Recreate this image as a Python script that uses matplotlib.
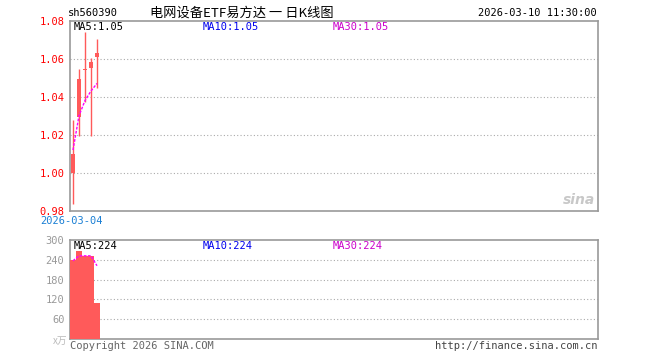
import matplotlib
matplotlib.use("Agg")
import matplotlib.pyplot as plt

# ---- data ----
opens = [1.000, 1.0296, 1.054, 1.0549, 1.0607]
closes = [1.010, 1.0493, 1.0548, 1.0583, 1.0628]
highs = [1.028, 1.0547, 1.074, 1.0604, 1.0704]
lows = [0.9837, 1.0196, 1.037, 1.0196, 1.0447]
ma5_price = [1.012, 1.030, 1.038, 1.043, 1.047]
volumes = [239, 267, 251, 251, 109]
ma5_vol = [237, 252, 252, 252, 222]
price_ticks = [0.98, 1.00, 1.02, 1.04, 1.06, 1.08]
price_labels = ["0.98", "1.00", "1.02", "1.04", "1.06", "1.08"]
vol_ticks = [60, 120, 180, 240, 300]
vol_labels = ["60", "120", "180", "240", "300"]
start_date = "2026-03-04"
n_slots = 88

RED = "#ff5a5a"
MONO = "DejaVu Sans Mono"
CJK = ["Noto Sans CJK SC", "DejaVu Sans"]
GRID = "#aaaaaa"
FRAME = "#999999"

fig = plt.figure(figsize=(6.6, 3.6), dpi=100)
fig.patch.set_facecolor("white")

W, H = 660.0, 360.0
def box(l, t, r, b):
    return [l / W, 1 - b / H, (r - l) / W, (b - t) / H]

ax = fig.add_axes(box(70, 20.5, 598, 211))
axv = fig.add_axes(box(70, 240, 598, 339))

for a in (ax, axv):
    for s in a.spines.values():
        s.set_color(FRAME)
        s.set_linewidth(1.2)
    a.set_xlim(-0.5, n_slots - 0.5)
    a.set_xticks([])
    a.tick_params(axis="y", length=0, pad=4)

# price
x = list(range(len(opens)))
for i in x:
    ax.vlines(i, lows[i], highs[i], color=RED, linewidth=1.0, zorder=3)
    bot = min(opens[i], closes[i])
    h = max(abs(closes[i] - opens[i]), 0.0008)
    ax.bar(i, h, bottom=bot, width=0.7, color=RED, edgecolor=RED, linewidth=0, zorder=4)
ax.plot(x, ma5_price, color="#ff00ff", linewidth=1.0, linestyle=(0, (2, 1)), zorder=5)
ax.set_ylim(0.98, 1.08)
ax.set_yticks(price_ticks)
ax.set_yticklabels(price_labels, family=MONO, fontsize=7.5, color="#ff0000")
for v in price_ticks[1:-1]:
    ax.axhline(v, color=GRID, linewidth=0.8, linestyle=(0, (1, 2)), zorder=1)

# volume
axv.bar(x, volumes, width=0.85, color=RED, linewidth=0, zorder=3)
axv.plot(x, ma5_vol, color="#ff00ff", linewidth=1.0, linestyle=(0, (2, 1)), zorder=5)
axv.set_ylim(0, 300)
axv.set_yticks(vol_ticks)
axv.set_yticklabels(vol_labels, family=MONO, fontsize=7.5, color="#999999")
for v in vol_ticks[:-1]:
    axv.axhline(v, color=GRID, linewidth=0.8, linestyle=(0, (1, 2)), zorder=1)

def t(xp, yp, s, **kw):
    fig.text(xp / W, 1 - yp / H, s, **kw)

# header
t(68, 13, "sh560390", family=MONO, fontsize=7.5, color="black", va="center", ha="left")
t(150, 13, "电网设备ETF易方达 一 日K线图", family=CJK, fontsize=9.5, color="black", va="center", ha="left")
t(597, 13, "2026-03-10 11:30:00", family=MONO, fontsize=7.5, color="black", va="center", ha="right")

# MA labels
t(74, 27, "MA5:1.05", family=MONO, fontsize=7.5, color="black", va="center")
t(203, 27, "MA10:1.05", family=MONO, fontsize=7.5, color="#0000ee", va="center")
t(333, 27, "MA30:1.05", family=MONO, fontsize=7.5, color="#cc00cc", va="center")
t(74, 246, "MA5:224", family=MONO, fontsize=7.5, color="black", va="center")
t(203, 246, "MA10:224", family=MONO, fontsize=7.5, color="#0000ee", va="center")
t(333, 246, "MA30:224", family=MONO, fontsize=7.5, color="#cc00cc", va="center")

# date under main axes
t(40, 221, start_date, family=MONO, fontsize=7.5, color="#1a7fd4", va="center", ha="left")

# unit
t(67, 341, "x万", family=CJK, fontsize=7, color="#bbbbbb", va="center", ha="right")

# footer
t(70, 346, "Copyright 2026 SINA.COM", family=MONO, fontsize=7.5, color="#666666", va="center", ha="left")
t(597, 346, "http://finance.sina.com.cn", family=MONO, fontsize=7.5, color="#444444", va="center", ha="right")

# watermark
t(595, 200, "sina", family="DejaVu Sans", fontsize=10, style="italic", weight="bold",
  color="#c8c8c8", va="center", ha="right")

fig.savefig("out.png", dpi=100, facecolor="white")
